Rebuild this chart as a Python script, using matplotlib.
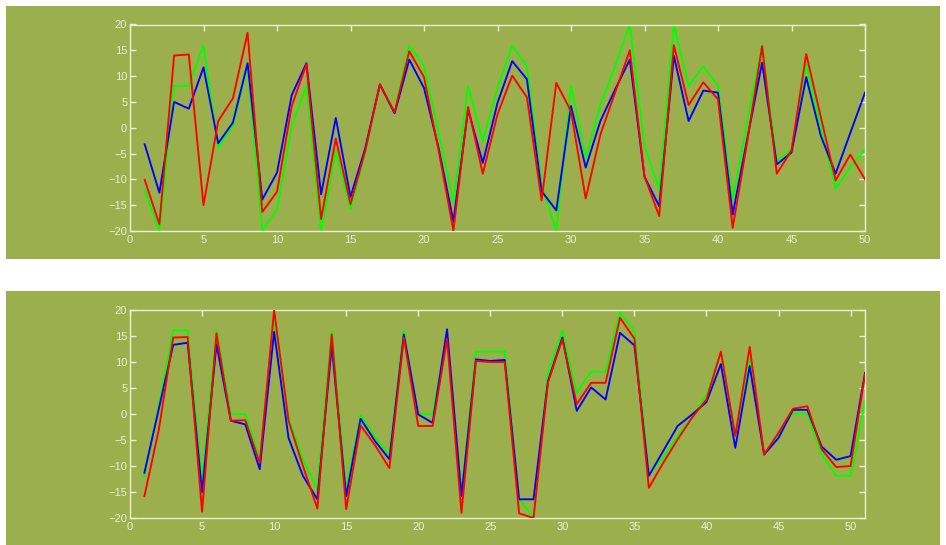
import matplotlib
matplotlib.use("Agg")
import matplotlib.pyplot as plt
from matplotlib.patches import Rectangle

plt.rcParams["font.family"] = ["Liberation Sans", "DejaVu Sans"]

# ---- data: top panel (x = 1..50) ----
top_x = list(range(1, 51))
top_green = [-12.1, -20, 8.1, 8.1, 15.9, -3.9, 0.3, 12.0, -20, -15.8,
             0.3, 8.1, -20, -4.5, -15.8, -4.8, 8.4, 3.2, 15.9, 11.9,
             -1.0, -14.5, 8.1, -2.6, 7.7, 15.9, 11.9, -11.0, -20, 8.1,
             -5.8, 4.5, 11.9, 20.0, -3.5, -11.9, 20.0, 8.1, 11.9, 8.1,
             -13.9, 1.5, 16.1, -6.5, -4.2, 12.3, 0.0, -11.8, -7.7, -4.2]
top_blue = [-3.2, -12.6, 5.0, 3.7, 11.7, -3.0, 1.0, 12.5, -13.9, -8.7,
            6.3, 12.5, -12.9, 1.9, -13.4, -4.0, 8.4, 2.8, 13.2, 7.7,
            -4.0, -18.1, 3.5, -6.8, 4.8, 12.9, 9.4, -12.3, -16.0, 4.2,
            -7.7, 1.3, 7.4, 13.2, -9.5, -15.2, 13.9, 1.3, 7.2, 6.8,
            -16.8, -2.0, 12.6, -7.1, -4.8, 9.8, -1.6, -8.9, -1.0, 6.8]
top_red = [-10.1, -18.7, 14.0, 14.2, -15.0, 1.3, 5.7, 18.4, -16.3, -12.4,
           4.2, 12.3, -17.7, -2.1, -14.8, -4.5, 8.4, 3.0, 14.8, 9.8,
           -4.5, -19.9, 4.0, -8.9, 2.6, 10.1, 5.9, -14.1, 8.7, 3.2,
           -13.7, -1.3, 6.8, 15.0, -9.4, -17.1, 16.0, 4.4, 8.8, 5.5,
           -19.4, -2.5, 15.8, -8.9, -4.4, 14.3, 2.0, -10.2, -5.2, -10.0]

# ---- data: bottom panel (x = 1..51) ----
bot_x = list(range(1, 52))
bot_green = [-11.9, 1.5, 16.1, 16.1, -13.0, 16.0, 0.0, 0.0, -8.7, 18.5,
             -0.7, -8.7, -14.5, 16.0, -14.5, -0.2, -4.5, -7.8, 16.0, 0.0,
             0.0, 15.3, -15.1, 12.0, 12.0, 12.0, -16.4, -19.9, 7.9, 16.0,
             4.1, 8.1, 8.1, 19.6, 16.0, -11.6, -8.4, -4.2, -0.7, 3.6,
             11.8, -3.9, 10.5, -7.8, -3.9, 0.1, 0.1, -7.8, -11.9, -11.9,
             2.5]
bot_blue = [-11.3, 1.0, 13.3, 13.7, -15.0, 13.4, -1.3, -2.0, -10.6, 15.8,
            -4.6, -11.9, -16.4, 13.1, -15.8, -0.9, -5.2, -8.7, 15.3, -0.1,
            -1.7, 16.3, -15.8, 10.5, 10.2, 10.4, -16.4, -16.4, 6.3, 14.7,
            0.6, 5.1, 2.8, 15.6, 13.2, -11.9, -7.1, -2.3, -0.1, 2.3,
            9.6, -6.5, 9.2, -7.8, -4.6, 0.8, 0.8, -6.3, -8.8, -8.1,
            7.9]
bot_red = [-15.8, -3.0, 14.7, 14.8, -18.8, 15.5, -1.3, -1.2, -9.4, 20.0,
           -1.3, -10.0, -18.2, 15.3, -18.3, -2.2, -6.0, -10.4, 14.7, -2.3,
           -2.3, 14.4, -19.0, 10.2, 10.0, 10.0, -19.1, -20.0, 6.0, 14.4,
           1.9, 6.0, 6.0, 18.5, 14.5, -14.2, -9.4, -4.9, -0.7, 2.8,
           12.0, -4.2, 12.9, -7.8, -3.6, 1.0, 1.5, -6.8, -10.2, -10.0,
           7.6]

BG = "#9bb04c"
FG = "#eceed6"
W, H = 946, 545

fig = plt.figure(figsize=(W / 100, H / 100), dpi=100, facecolor="white")

# olive panel backgrounds
fig.patches.append(Rectangle((6 / W, (H - 259) / H), 934 / W, 253 / H,
                             transform=fig.transFigure, facecolor=BG,
                             edgecolor="none", zorder=-10))
fig.patches.append(Rectangle((6 / W, 0), 934 / W, 254 / H,
                             transform=fig.transFigure, facecolor=BG,
                             edgecolor="none", zorder=-10))

ax1 = fig.add_axes([130 / W, (H - 231) / H, 735 / W, 206.5 / H])
ax2 = fig.add_axes([130 / W, (H - 518) / H, 735 / W, 208 / H])

panels = [
    (ax1, top_x, top_green, top_blue, top_red, 50),
    (ax2, bot_x, bot_green, bot_blue, bot_red, 51),
]

for ax, xs, g, b, r, xmax in panels:
    ax.set_zorder(5)
    ax.set_facecolor(BG)
    ax.plot(xs, g, color="#00ff00", lw=1.35, zorder=2)
    ax.plot(xs, b, color="#0000ff", lw=1.35, zorder=3)
    ax.plot(xs, r, color="#ff0000", lw=1.35, zorder=4)
    ax.set_xlim(0, xmax)
    ax.set_ylim(-20, 20)
    ax.set_xticks(range(0, xmax + 1, 5))
    ax.set_yticks(range(-20, 21, 5))
    for sp in ax.spines.values():
        sp.set_color(FG)
        sp.set_linewidth(1.0)
    ax.tick_params(axis="both", which="both", direction="in", colors=FG,
                   labelsize=8, length=4, width=1.0, pad=2,
                   top=True, right=True, bottom=False, left=True)
    ax.tick_params(axis="x", pad=3)
    for lab in ax.get_xticklabels() + ax.get_yticklabels():
        lab.set_color(FG)

fig.savefig("out.png", dpi=100, facecolor="white")
